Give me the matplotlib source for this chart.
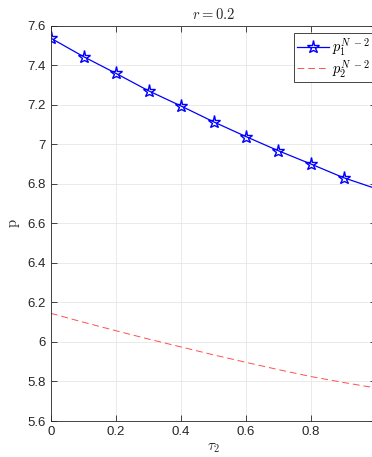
import matplotlib.pyplot as plt

plt.rcParams['font.family'] = 'Liberation Sans'
plt.rcParams['mathtext.fontset'] = 'cm'

# sampled values of tau_2 and the two prices
tau2 = [0.0, 0.1, 0.2, 0.3, 0.4, 0.5, 0.6, 0.7, 0.8, 0.9, 0.99]
p1 = [7.538, 7.445, 7.36, 7.272, 7.195, 7.115, 7.04, 6.968, 6.901, 6.832, 6.782]
p2 = [6.145, 6.10, 6.057, 6.015, 5.975, 5.935, 5.897, 5.86, 5.825, 5.795, 5.77]

yticks = [5.6, 5.8, 6, 6.2, 6.4, 6.6, 6.8, 7, 7.2, 7.4, 7.6]
ytick_labels = ['5.6', '5.8', '6', '6.2', '6.4', '6.6', '6.8', '7', '7.2', '7.4', '7.6']
xticks = [0, 0.2, 0.4, 0.6, 0.8]
xtick_labels = ['0', '0.2', '0.4', '0.6', '0.8']

fig = plt.figure(figsize=(3.72, 4.57), dpi=100)
ax = fig.add_axes([51 / 372, 36 / 457, 325 / 372, 395 / 457])

ax.plot(tau2, p1, color='#0000ff', lw=0.9, marker='*', ms=9.5,
        mfc='none', mec='#0000ff', mew=1.0, markevery=list(range(10)),
        label=r'$p_1^{N\;-2}$')
ax.plot(tau2, p2, color='#ff5050', lw=0.7, ls=(0, (7, 4)),
        label=r'$p_2^{N\;-2}$')

ax.set_xlim(0, 1)
ax.set_ylim(5.6, 7.6)
ax.set_xticks(xticks)
ax.set_xticklabels(xtick_labels)
ax.set_yticks(yticks)
ax.set_yticklabels(ytick_labels)
ax.tick_params(direction='in', top=True, right=True, labelsize=9.5,
               colors='#262626', length=4, width=0.6)
ax.grid(True, color='#e6e6e6', lw=0.6)
ax.set_axisbelow(True)
for s in ax.spines.values():
    s.set_color('#262626')
    s.set_linewidth(0.6)

ax.set_title(r'$r = 0.2$', fontsize=10.5, color='#262626', pad=5)
ax.set_xlabel(r'$\tau_2$', fontsize=10.5, color='#262626', labelpad=2)
ax.set_ylabel(r'$\mathrm{p}$', fontsize=10.5, color='#262626', labelpad=4)

leg = ax.legend(loc='upper left', bbox_to_anchor=(243 / 325, 1 - 7 / 395),
                fontsize=10.5, handlelength=2.2, borderaxespad=0,
                fancybox=False, edgecolor='#262626', framealpha=1,
                borderpad=0.2, labelspacing=0.0, handletextpad=0.2)
leg.get_frame().set_linewidth(0.6)

fig.savefig('out.png', dpi=100)
